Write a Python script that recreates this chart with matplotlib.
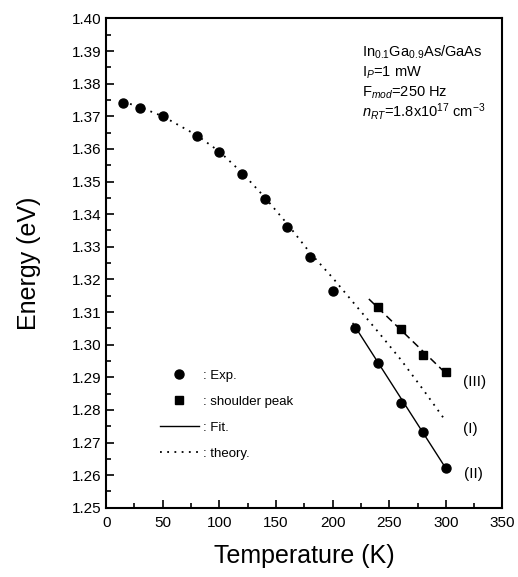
import numpy as np
import matplotlib
matplotlib.use("Agg")
import matplotlib.pyplot as plt

plt.rcParams['font.family'] = ['Liberation Sans', 'DejaVu Sans']
plt.rcParams['mathtext.fontset'] = 'custom'
plt.rcParams['mathtext.rm'] = 'Liberation Sans'
plt.rcParams['mathtext.it'] = 'Liberation Sans:italic'

# experimental peak energies
exp_T = [15, 30, 50, 80, 100, 120, 140, 160, 180, 200, 220, 240, 260, 280, 300]
exp_E = [1.3740, 1.3727, 1.3702, 1.3639, 1.3590, 1.3523, 1.3447, 1.3360,
         1.3269, 1.3166, 1.3051, 1.2943, 1.2820, 1.2732, 1.2623]

# shoulder peak
sh_T = [240, 260, 280, 300]
sh_E = [1.3114, 1.3047, 1.2969, 1.2915]
sh_line_T = [232, 300]
sh_line_E = [1.3140, 1.2912]

# linear fit (II)
fit_T = [218, 302]
fit_E = [1.3065, 1.2610]

# theory curve (I)
th_T = [15, 30, 50, 80, 100, 120, 140, 160, 180, 200, 220, 240, 260, 280, 298]
th_E = [1.3745, 1.3728, 1.3700, 1.3642, 1.3592, 1.3527, 1.3452, 1.3370,
        1.3282, 1.3205, 1.3122, 1.3040, 1.2955, 1.2862, 1.2775]

curve_labels = ['(III)', '(I)', '(II)']
curve_label_T = [325, 322, 324]
curve_label_E = [1.2885, 1.2740, 1.2602]

fig = plt.figure(figsize=(5.18, 5.77), dpi=100)
ax = fig.add_axes([0.205, 0.12, 0.765, 0.848])

ax.plot(exp_T, exp_E, 'o', color='black', markersize=6.5, label=': Exp.')
ax.plot(sh_T, sh_E, 's', color='black', markersize=5.5, label=': shoulder peak')
ax.plot(fit_T, fit_E, '-', color='black', lw=1.0, label=': Fit.')
ax.plot(th_T, th_E, color='black', lw=1.3, linestyle=(0, (1, 3)), label=': theory.')
ax.plot(sh_line_T, sh_line_E, color='black', lw=1.1, linestyle=(0, (5, 3)))

for lab, t, e in zip(curve_labels, curve_label_T, curve_label_E):
    ax.text(t, e, lab, ha='center', va='center', fontsize=11)

ax.set_xlim(0, 350)
ax.set_ylim(1.25, 1.40)
ax.set_xticks(np.arange(0, 351, 50))
ax.set_xticks(np.arange(0, 351, 25), minor=True)
ax.set_yticks(np.arange(1.25, 1.4001, 0.01))
ax.set_yticks(np.arange(1.25, 1.4001, 0.005), minor=True)
ax.set_yticklabels(['%.2f' % v for v in np.arange(1.25, 1.4001, 0.01)])
ax.tick_params(which='both', direction='in', top=False, right=False, labelsize=11, width=1.2)
ax.tick_params(which='major', length=6)
ax.tick_params(which='minor', length=3.5)
ax.tick_params(axis='x', pad=6)
for s in ax.spines.values():
    s.set_linewidth(1.5)

ax.set_xlabel('Temperature (K)', fontsize=18, labelpad=10)
ax.set_ylabel('Energy (eV)', fontsize=18, labelpad=22)

ax.legend(loc='upper left', bbox_to_anchor=(0.135, 0.283), frameon=False,
          fontsize=9.5, handlelength=3.0, handletextpad=0.3, labelspacing=1.05,
          borderpad=0, borderaxespad=0)

info = [r'In$_{0.1}$Ga$_{0.9}$As/GaAs',
        r'I$_{P}$=1 mW',
        r'F$_{mod}$=250 Hz',
        r'$n_{RT}$=1.8x10$^{17}$ cm$^{-3}$']
info_y = [0.930, 0.888, 0.849, 0.810]
for s, y in zip(info, info_y):
    ax.text(0.645, y, s, transform=ax.transAxes, fontsize=10.5, va='center', ha='left')

fig.savefig('out.png', dpi=100)
